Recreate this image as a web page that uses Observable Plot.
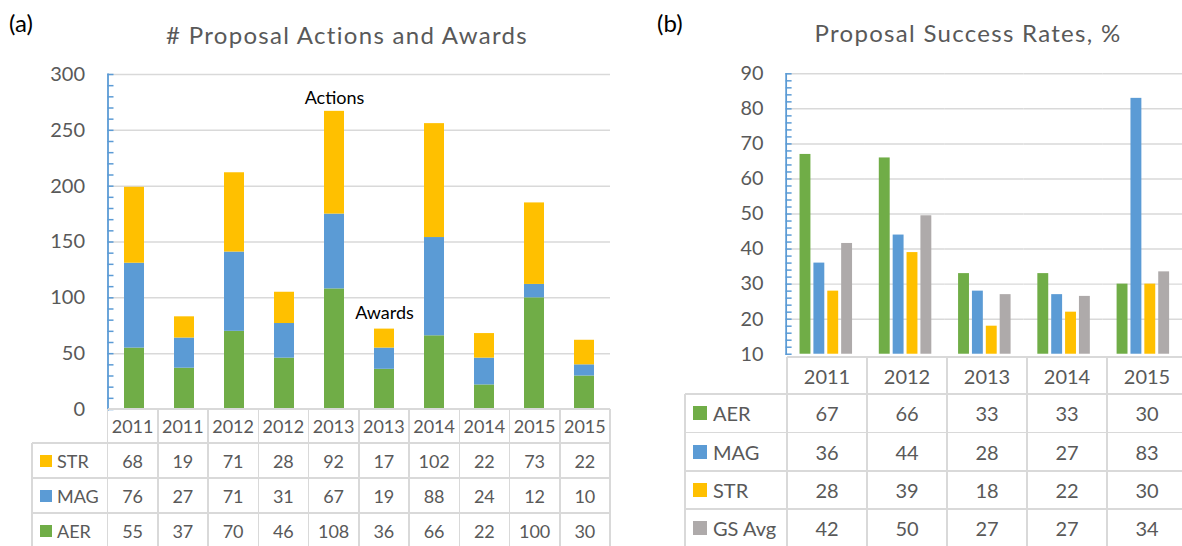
<!DOCTYPE html>
<html><head><meta charset="utf-8">
<script src="https://cdn.jsdelivr.net/npm/d3@7"></script>
<script src="https://cdn.jsdelivr.net/npm/@observablehq/plot@0.6"></script>
<style>
html,body{margin:0;padding:0;overflow:hidden;background:#fff;}
#root{position:relative;width:1182px;height:546px;overflow:hidden;font-family:Lato,"Open Sans",sans-serif;color:#595959;}
.abs{position:absolute;}
.cell{position:absolute;display:flex;align-items:center;justify-content:center;white-space:nowrap;}
</style></head><body><div id="root"></div>
<script>
// ---------- Panel (a) data ----------
const catsA = ["2011","2011","2012","2012","2013","2013","2014","2014","2015","2015"];
const seriesA = ["AER","MAG","STR"];
const tableOrderA = ["STR","MAG","AER"];
const strA = [68,19,71,28,92,17,102,22,73,22];
const magA = [76,27,71,31,67,19,88,24,12,10];
const aerA = [55,37,70,46,108,36,66,22,100,30];
const ticksA = [0,50,100,150,200,250,300];
const annotTextA = ["Actions","Awards"];
const annotIdxA = [4,5];
const annotYA = [279,86];

// ---------- Panel (b) data ----------
const yearsB = ["2011","2012","2013","2014","2015"];
const seriesB = ["AER","MAG","STR","GS Avg"];
const aerB = [67,66,33,33,30];
const magB = [36,44,28,27,83];
const strB = [28,39,18,22,30];
const gsB = [41.6,49.5,27,26.5,33.5];
const ticksB = [10,20,30,40,50,60,70,80,90];

const colors = {AER:"#70AD47", MAG:"#5B9BD5", STR:"#FFC000", "GS Avg":"#AEAAAA"};
const axisBlue = "#5B9BD5", gridGray = "#D9D9D9", textGray = "#595959";

const root = document.getElementById("root");
function div(cls, css, text){
  const d = document.createElement("div");
  d.className = cls; Object.assign(d.style, css);
  if (text !== undefined) d.textContent = text;
  root.appendChild(d); return d;
}

// ---------- Panel (a) chart ----------
const valsA = {AER: aerA, MAG: magA, STR: strA};
const dataA = [];
catsA.forEach((c,i)=> seriesA.forEach(s=> dataA.push({i, cat:c, series:s, v: valsA[s][i]})));
const annotA = annotTextA.map((t,k)=>({t, i: annotIdxA[k], y: annotYA[k]}));

const plotA = Plot.plot({
  width: 620, height: 410,
  marginLeft: 107.5, marginRight: 10, marginTop: 74, marginBottom: 1,
  style: {fontFamily: "Lato, sans-serif", color: textGray, background: "transparent", overflow: "visible"},
  x: {type: "band", domain: d3.range(catsA.length), paddingInner: 0.61, paddingOuter: 0.305, axis: null},
  y: {domain: [0,300], axis: null},
  color: {domain: seriesB, range: seriesB.map(s=>colors[s])},
  marks: [
    Plot.gridY(ticksA.filter(t=>t>0), {stroke: gridGray, strokeOpacity: 1, strokeWidth: 1.5}),
    Plot.barY(dataA, {x: "i", y: "v", fill: "series"}),
    Plot.axisY(d3.range(0,301,10), {tickSize: 6, dx: 6, fill: "none", stroke: axisBlue, strokeOpacity: 1, strokeWidth: 1.5, label: null}),
    Plot.axisY(ticksA, {tickSize: 0, tickPadding: 23, fill: textGray, fillOpacity: 1, fontSize: 20, label: null}),
    Plot.frame({anchor: "left", stroke: axisBlue, strokeWidth: 1.8, strokeOpacity: 1}),
    Plot.text(annotA, {x: "i", y: "y", text: "t", fill: "black", fontSize: 18})
  ]
});
const holderA = div("abs", {left: "0px", top: "0px"});
holderA.appendChild(plotA);

// ---------- Panel (b) chart ----------
const valsB = {AER: aerB, MAG: magB, STR: strB, "GS Avg": gsB};
const dataB = [];
yearsB.forEach((yr,j)=> seriesB.forEach(s=> dataB.push({year: yr, series: s, v: valsB[s][j]})));

const plotB = Plot.plot({
  width: 547, height: 358,
  marginLeft: 147, marginRight: 0, marginTop: 74, marginBottom: 1,
  style: {fontFamily: "Lato, sans-serif", color: textGray, background: "transparent", overflow: "visible"},
  fx: {domain: yearsB, paddingInner: 0, paddingOuter: 0, axis: null, label: null},
  x: {domain: seriesB, paddingInner: 0.236, paddingOuter: 0.896, axis: null},
  y: {domain: [10,90], axis: null},
  color: {domain: seriesB, range: seriesB.map(s=>colors[s])},
  marks: [
    Plot.gridY(ticksB.filter(t=>t>10), {stroke: gridGray, strokeOpacity: 1, strokeWidth: 1.5}),
    Plot.barY(dataB, {fx: "year", x: "series", y1: 10, y2: "v", fill: "series"}),
    Plot.axisY(d3.range(10,91,2), {tickSize: 6, dx: 6, fill: "none", stroke: axisBlue, strokeOpacity: 1, strokeWidth: 1.5, label: null}),
    Plot.axisY(ticksB, {tickSize: 0, tickPadding: 23, fill: textGray, fillOpacity: 1, fontSize: 20, label: null}),
    Plot.frame({anchor: "left", facetAnchor: "left", stroke: axisBlue, strokeWidth: 1.8, strokeOpacity: 1})
  ]
});
const holderB = div("abs", {left: "640px", top: "0px"});
holderB.appendChild(plotB);

// ---------- Titles ----------
div("abs", {left: "9px", top: "8px", fontSize: "24px", color: "#000", fontFamily: "Lato, sans-serif"}, "(a)");
div("abs", {left: "657px", top: "8px", fontSize: "24px", color: "#000", fontFamily: "Lato, sans-serif"}, "(b)");
div("abs", {left: "347px", top: "34px", transform: "translate(-50%,-50%)", fontSize: "24px", letterSpacing: "1.3px", color: textGray, whiteSpace: "nowrap"}, "# Proposal Actions and Awards");
div("abs", {left: "968px", top: "32px", transform: "translate(-50%,-50%)", fontSize: "24px", letterSpacing: "1.3px", color: textGray, whiteSpace: "nowrap"}, "Proposal Success Rates, %");

// ---------- Data tables ----------
function drawTable({xs, ys, header, rowLabels, rowValues, fontSize, sq, padL, gap}) {
  const lw = 1.5, last = xs.length - 1;
  const hline = (x1,x2,y)=> div("abs", {left: x1+"px", top: (y-lw/2)+"px", width: (x2-x1)+"px", height: lw+"px", background: gridGray});
  const vline = (x,y1,y2)=> div("abs", {left: (x-lw/2)+"px", top: y1+"px", width: lw+"px", height: (y2-y1)+"px", background: gridGray});
  hline(xs[1], xs[last], ys[0]);
  for (let r = 1; r < ys.length; r++) hline(xs[0], xs[last], ys[r]);
  vline(xs[0], ys[1], ys[ys.length-1]);
  for (let c = 1; c < xs.length; c++) vline(xs[c], ys[0], ys[ys.length-1]);
  header.forEach((h,c)=> div("cell", {left: xs[c+1]+"px", top: ys[0]+"px", width: (xs[c+2]-xs[c+1])+"px", height: (ys[1]-ys[0])+"px", fontSize: fontSize+"px"}, h));
  rowLabels.forEach((lab,r)=>{
    const top = ys[r+1], h = ys[r+2]-ys[r+1];
    const lc = div("cell", {left: (xs[0]+padL)+"px", top: top+"px", width: (xs[1]-xs[0]-padL)+"px", height: h+"px", justifyContent: "flex-start", fontSize: fontSize+"px"});
    const sw = document.createElement("span");
    Object.assign(sw.style, {display: "inline-block", width: sq+"px", height: sq+"px", background: colors[lab], marginRight: gap+"px"});
    lc.appendChild(sw);
    lc.appendChild(document.createTextNode(lab));
    rowValues[r].forEach((v,c)=> div("cell", {left: xs[c+1]+"px", top: top+"px", width: (xs[c+2]-xs[c+1])+"px", height: h+"px", fontSize: fontSize+"px"}, String(Math.round(v))));
  });
}

drawTable({
  xs: [32, ...d3.range(catsA.length+1).map(k=>107.5 + k*50.25)],
  ys: [409, 443, 478, 513, 548],
  header: catsA,
  rowLabels: tableOrderA,
  rowValues: tableOrderA.map(s=>valsA[s]),
  fontSize: 18, sq: 12, padL: 8, gap: 5
});
drawTable({
  xs: [685, ...d3.range(yearsB.length+1).map(k=>787 + k*80)],
  ys: [357, 394, 432.5, 471, 509, 547],
  header: yearsB,
  rowLabels: seriesB,
  rowValues: seriesB.map(s=>valsB[s]),
  fontSize: 20, sq: 14, padL: 8, gap: 6
});
</script></body></html>
